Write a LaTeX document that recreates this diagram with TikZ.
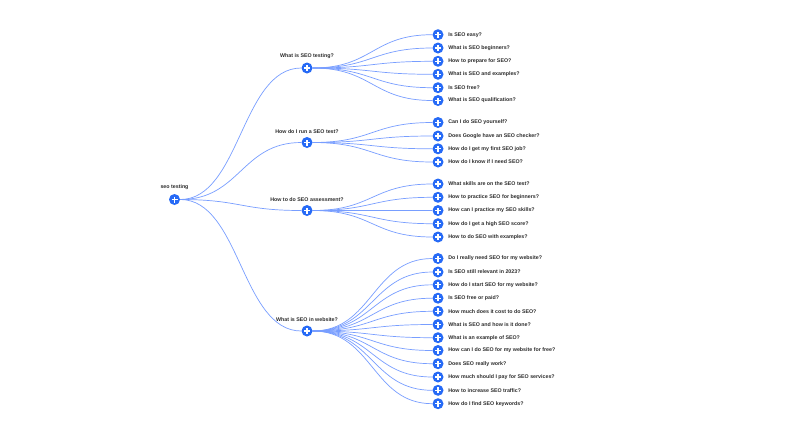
\documentclass[tikz,border=0pt]{standalone}
\usepackage{fontspec}
\setmainfont{Liberation Sans}
\usetikzlibrary{positioning,calc}
\definecolor{dotblue}{RGB}{38,106,246}
\definecolor{linkblue}{RGB}{120,158,255}
\definecolor{txtgray}{RGB}{45,45,45}
\tikzset{
  dot/.style={circle,fill=dotblue,minimum size=11pt,inner sep=0pt,
    path picture={\draw[white,line width=1.25pt]
      (path picture bounding box.center) ++(-3pt,0) -- ++(6pt,0)
      (path picture bounding box.center) ++(0,-3pt) -- ++(0,6pt);}},
  toplbl/.style={inner sep=0pt,font=\bfseries\fontsize{5.3}{6}\selectfont,text=txtgray},
  sidelbl/.style={inner sep=0pt,anchor=west,font=\bfseries\fontsize{5.3}{6}\selectfont,text=txtgray},
  link/.style={draw=linkblue,line width=0.7pt},
}
\newcommand{\lk}[2]{\draw[link] (#1.east) .. controls ($(#1.east)+(60,0)$) and ($(#2.west)-(60,0)$) .. (#2.west);}
\begin{document}
\begin{tikzpicture}[x=1pt,y=-1pt]
\fill[white] (0,0) rectangle (800,429);
\useasboundingbox (0,0) rectangle (800,429);
% root
\node[dot] (r) at (174.5,199.5) {};
\node[toplbl,above=4pt of r] (rl) {seo testing};
% level 1
\node[dot] (a) at (307,68) {};
\node[toplbl,above=3.5pt of a] (al) {What is SEO testing?};
\node[dot] (b) at (307,142.5) {};
\node[toplbl,above=3.5pt of b] (bl) {How do I run a SEO test?};
\node[dot] (c) at (307,210.5) {};
\node[toplbl,above=3.5pt of c] (cl) {How to do SEO assessment?};
\node[dot] (d) at (307,331) {};
\node[toplbl,above=3.5pt of d] (dl) {What is SEO in website?};
% group a
\node[dot] (a1) at (438,34.7) {};
\node[sidelbl,right=4.5pt of a1] (a1l) {Is SEO easy?};
\node[dot] (a2) at (438,48) {};
\node[sidelbl,right=4.5pt of a2] (a2l) {What is SEO beginners?};
\node[dot] (a3) at (438,61.3) {};
\node[sidelbl,right=4.5pt of a3] (a3l) {How to prepare for SEO?};
\node[dot] (a4) at (438,74.3) {};
\node[sidelbl,right=4.5pt of a4] (a4l) {What is SEO and examples?};
\node[dot] (a5) at (438,87.7) {};
\node[sidelbl,right=4.5pt of a5] (a5l) {Is SEO free?};
\node[dot] (a6) at (438,100.5) {};
\node[sidelbl,right=4.5pt of a6] (a6l) {What is SEO qualification?};
% group b
\node[dot] (b1) at (438,122.5) {};
\node[sidelbl,right=4.5pt of b1] (b1l) {Can I do SEO yourself?};
\node[dot] (b2) at (438,136) {};
\node[sidelbl,right=4.5pt of b2] (b2l) {Does Google have an SEO checker?};
\node[dot] (b3) at (438,148.8) {};
\node[sidelbl,right=4.5pt of b3] (b3l) {How do I get my first SEO job?};
\node[dot] (b4) at (438,162) {};
\node[sidelbl,right=4.5pt of b4] (b4l) {How do I know if I need SEO?};
% group c
\node[dot] (c1) at (438,184) {};
\node[sidelbl,right=4.5pt of c1] (c1l) {What skills are on the SEO test?};
\node[dot] (c2) at (438,197.3) {};
\node[sidelbl,right=4.5pt of c2] (c2l) {How to practice SEO for beginners?};
\node[dot] (c3) at (438,210.5) {};
\node[sidelbl,right=4.5pt of c3] (c3l) {How can I practice my SEO skills?};
\node[dot] (c4) at (438,223.7) {};
\node[sidelbl,right=4.5pt of c4] (c4l) {How do I get a high SEO score?};
\node[dot] (c5) at (438,237) {};
\node[sidelbl,right=4.5pt of c5] (c5l) {How to do SEO with examples?};
% group d
\node[dot] (d1) at (438,258.5) {};
\node[sidelbl,right=4.5pt of d1] (d1l) {Do I really need SEO for my website?};
\node[dot] (d2) at (438,272) {};
\node[sidelbl,right=4.5pt of d2] (d2l) {Is SEO still relevant in 2023?};
\node[dot] (d3) at (438,284.8) {};
\node[sidelbl,right=4.5pt of d3] (d3l) {How do I start SEO for my website?};
\node[dot] (d4) at (438,298.2) {};
\node[sidelbl,right=4.5pt of d4] (d4l) {Is SEO free or paid?};
\node[dot] (d5) at (438,311.3) {};
\node[sidelbl,right=4.5pt of d5] (d5l) {How much does it cost to do SEO?};
\node[dot] (d6) at (438,324.5) {};
\node[sidelbl,right=4.5pt of d6] (d6l) {What is SEO and how is it done?};
\node[dot] (d7) at (438,337.7) {};
\node[sidelbl,right=4.5pt of d7] (d7l) {What is an example of SEO?};
\node[dot] (d8) at (438,350.5) {};
\node[sidelbl,right=4.5pt of d8] (d8l) {How can I do SEO for my website for free?};
\node[dot] (d9) at (438,363.7) {};
\node[sidelbl,right=4.5pt of d9] (d9l) {Does SEO really work?};
\node[dot] (d10) at (438,377) {};
\node[sidelbl,right=4.5pt of d10] (d10l) {How much should I pay for SEO services?};
\node[dot] (d11) at (438,390.3) {};
\node[sidelbl,right=4.5pt of d11] (d11l) {How to increase SEO traffic?};
\node[dot] (d12) at (438,403.7) {};
\node[sidelbl,right=4.5pt of d12] (d12l) {How do I find SEO keywords?};
% links (drawn behind via layering order is not needed; lines end at circle edges)
\lk{r}{a}\lk{r}{b}\lk{r}{c}\lk{r}{d}
\foreach \i in {1,...,6}{\lk{a}{a\i}}
\foreach \i in {1,...,4}{\lk{b}{b\i}}
\foreach \i in {1,...,5}{\lk{c}{c\i}}
\foreach \i in {1,...,12}{\lk{d}{d\i}}
\end{tikzpicture}
\end{document}
